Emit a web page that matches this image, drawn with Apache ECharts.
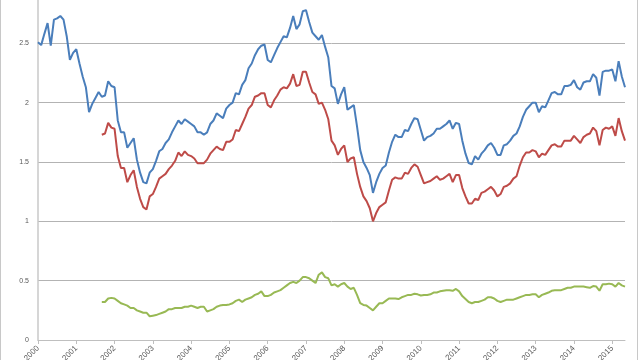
<!DOCTYPE html>
<html><head><meta charset="utf-8">
<script src="https://cdn.jsdelivr.net/npm/echarts@6/dist/echarts.min.js"></script>
<style>html,body{margin:0;padding:0;background:#fff}#c{width:640px;height:360px}</style>
</head><body><div id="c"></div>
<script>
// Monthly series, Jan 2000 .. May 2015
const startYear = 2000;
const monthCount = 185;

const blue = [
  2.51,2.485,2.58,2.67,2.48,2.70,2.71,2.73,2.70,2.56,2.36,2.42,
  2.45,2.33,2.22,2.13,1.92,1.99,2.04,2.09,2.05,2.06,2.18,2.14,
  2.13,1.85,1.75,1.75,1.62,1.66,1.70,1.52,1.41,1.33,1.32,1.41,
  1.44,1.51,1.59,1.61,1.66,1.69,1.75,1.80,1.85,1.82,1.86,1.84,
  1.82,1.80,1.75,1.75,1.73,1.75,1.82,1.85,1.91,1.89,1.87,1.95,
  1.98,2.00,2.08,2.07,2.15,2.19,2.29,2.33,2.40,2.45,2.48,2.49,
  2.36,2.34,2.40,2.46,2.51,2.56,2.55,2.63,2.73,2.62,2.66,2.77,
  2.78,2.68,2.59,2.56,2.53,2.57,2.47,2.38,2.14,2.12,1.99,2.07,
  2.13,1.94,1.96,1.98,1.80,1.60,1.50,1.45,1.39,1.24,1.33,1.40,
  1.45,1.47,1.58,1.67,1.73,1.71,1.71,1.77,1.76,1.82,1.87,1.86,
  1.77,1.68,1.71,1.72,1.74,1.78,1.78,1.80,1.82,1.85,1.78,1.83,
  1.82,1.68,1.57,1.49,1.48,1.55,1.52,1.57,1.60,1.64,1.66,1.62,
  1.56,1.56,1.64,1.65,1.68,1.72,1.74,1.80,1.88,1.94,1.97,2.00,
  2.00,1.92,1.97,1.96,2.02,2.08,2.09,2.07,2.07,2.14,2.14,2.15,
  2.19,2.13,2.11,2.17,2.18,2.18,2.24,2.21,2.06,2.26,2.27,2.27,
  2.28,2.18,2.35,2.22,2.13
];

// red and green start in Sep 2001 (month index 20)
const lateStart = 20;
const red = [
  1.73,1.74,1.83,1.79,
  1.78,1.55,1.45,1.45,1.33,1.39,1.43,1.29,1.19,1.12,1.10,1.21,
  1.23,1.29,1.36,1.38,1.40,1.44,1.47,1.51,1.58,1.55,1.59,1.56,
  1.55,1.53,1.49,1.49,1.49,1.52,1.57,1.60,1.63,1.61,1.60,1.67,
  1.67,1.69,1.77,1.76,1.82,1.88,1.95,1.98,2.05,2.06,2.08,2.08,
  1.98,1.96,2.02,2.06,2.11,2.13,2.12,2.16,2.24,2.14,2.15,2.26,
  2.26,2.17,2.09,2.07,1.99,2.00,1.94,1.86,1.68,1.64,1.56,1.61,
  1.64,1.50,1.53,1.54,1.40,1.29,1.21,1.17,1.11,1.00,1.07,1.12,
  1.14,1.16,1.26,1.35,1.37,1.36,1.36,1.41,1.40,1.45,1.48,1.46,
  1.39,1.32,1.33,1.34,1.36,1.38,1.35,1.36,1.38,1.40,1.33,1.39,
  1.39,1.28,1.21,1.15,1.15,1.19,1.18,1.24,1.25,1.27,1.29,1.26,
  1.21,1.23,1.29,1.30,1.32,1.36,1.38,1.47,1.54,1.58,1.58,1.60,
  1.59,1.54,1.57,1.56,1.60,1.64,1.65,1.63,1.63,1.68,1.68,1.68,
  1.72,1.69,1.66,1.71,1.73,1.74,1.79,1.76,1.64,1.77,1.79,1.78,
  1.80,1.72,1.87,1.76,1.68
];
const green = [
  0.32,0.32,0.35,0.355,
  0.35,0.33,0.31,0.30,0.29,0.27,0.27,0.25,0.24,0.23,0.23,0.20,
  0.205,0.21,0.22,0.23,0.24,0.26,0.26,0.27,0.27,0.27,0.28,0.28,
  0.29,0.28,0.27,0.28,0.28,0.24,0.25,0.26,0.28,0.29,0.295,0.295,
  0.30,0.31,0.33,0.34,0.32,0.34,0.35,0.36,0.38,0.39,0.41,0.37,
  0.37,0.38,0.40,0.41,0.42,0.44,0.46,0.48,0.49,0.48,0.50,0.53,
  0.53,0.52,0.50,0.48,0.55,0.57,0.53,0.52,0.46,0.47,0.45,0.47,
  0.48,0.45,0.43,0.44,0.38,0.31,0.295,0.29,0.27,0.25,0.28,0.31,
  0.31,0.33,0.35,0.35,0.35,0.345,0.36,0.37,0.38,0.38,0.39,0.385,
  0.375,0.38,0.38,0.385,0.40,0.40,0.41,0.415,0.42,0.42,0.415,0.43,
  0.41,0.37,0.345,0.32,0.31,0.32,0.32,0.33,0.34,0.36,0.36,0.35,
  0.33,0.32,0.33,0.34,0.34,0.34,0.35,0.36,0.37,0.38,0.38,0.385,
  0.385,0.36,0.38,0.39,0.40,0.415,0.42,0.42,0.42,0.43,0.44,0.44,
  0.45,0.45,0.45,0.45,0.445,0.44,0.455,0.45,0.415,0.47,0.47,0.475,
  0.47,0.45,0.48,0.46,0.45
];

const categories = [];
for (let i = 0; i < monthCount; i++) {
  const y = startYear + Math.floor(i / 12);
  const m = (i % 12) + 1;
  categories.push(y + '-' + String(m).padStart(2, '0'));
}
const pad = (arr, start) => Array(start).fill(null).concat(arr);

const labelFont = 'Liberation Sans';
const chart = echarts.init(document.getElementById('c'), null, {renderer: 'canvas'});
chart.setOption({
  animation: false,
  backgroundColor: '#ffffff',
  grid: {left: 38, right: 15, top: -16, bottom: 20, containLabel: false, outerBoundsMode: 'none'},
  graphic: [{
    type: 'rect', silent: true, z: -1,
    shape: {x: 0.5, y: -20, width: 637, height: 420},
    style: {fill: 'none', stroke: '#c8c8c8', lineWidth: 1}
  }],
  xAxis: {
    type: 'category', data: categories, boundaryGap: false,
    axisLine: {lineStyle: {color: '#bfbfbf', width: 1}},
    axisTick: {interval: (i) => i % 12 === 0, length: 4, lineStyle: {color: '#bfbfbf'}},
    axisLabel: {
      interval: (i) => i % 12 === 0, rotate: 45, margin: 7,
      formatter: (v) => v.slice(0, 4),
      fontSize: 8, color: '#595959', fontFamily: labelFont
    },
    splitLine: {show: false}
  },
  yAxis: {
    type: 'value', min: 0, max: 3, interval: 0.5,
    axisLine: {show: true, lineStyle: {color: '#c8c8c8', width: 1.5}},
    axisTick: {show: false},
    splitLine: {lineStyle: {color: '#b3b3b3', width: 1}},
    axisLabel: {fontSize: 7, color: '#595959', margin: 9, fontFamily: labelFont}
  },
  series: [
    {type: 'line', data: blue, showSymbol: false, lineStyle: {color: '#4a7ebb', width: 2}, itemStyle: {color: '#4a7ebb'}},
    {type: 'line', data: pad(red, lateStart), showSymbol: false, lineStyle: {color: '#be4b48', width: 2}, itemStyle: {color: '#be4b48'}},
    {type: 'line', data: pad(green, lateStart), showSymbol: false, lineStyle: {color: '#98b954', width: 2}, itemStyle: {color: '#98b954'}}
  ]
});
</script>
</body></html>
